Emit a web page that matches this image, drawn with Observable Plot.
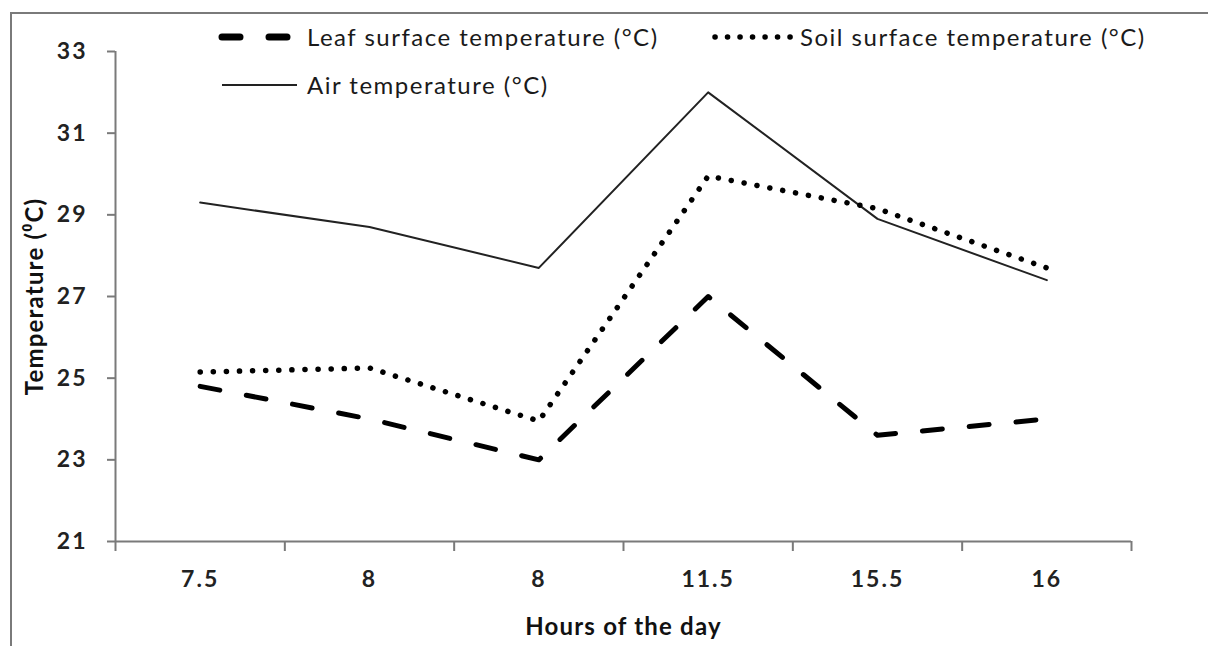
<!DOCTYPE html>
<html>
<head>
<meta charset="utf-8">
<script src="https://cdn.jsdelivr.net/npm/d3@7"></script>
<script src="https://cdn.jsdelivr.net/npm/@observablehq/plot@0.6"></script>
<style>
  html, body { margin: 0; padding: 0; background: #fff; }
  #wrap { position: relative; width: 1208px; height: 646px; overflow: hidden; font-family: Lato, "Open Sans", sans-serif; }
  #border { position: absolute; left: 10px; top: 12px; width: 1220px; height: 660px; border: 2px solid #7a7a7a; box-sizing: border-box; }
  #chart { position: absolute; left: 0; top: 0; }
  .leg { position: absolute; display: flex; align-items: center; font-size: 24px; line-height: 29px; letter-spacing: 1.5px; color: #1a1a1a; white-space: nowrap; }
  .leg svg { display: block; }
</style>
</head>
<body>
<div id="wrap">
  <div id="border"></div>
  <div id="chart"></div>
</div>
<script>
// Data
const hours = ["7.5", "8", "8", "11.5", "15.5", "16"];
const leafTemp = [24.8, 24.0, 23.0, 27.0, 23.6, 24.0];
const soilTemp = [25.15, 25.25, 23.95, 29.95, 29.15, 27.7];
const airTemp = [29.3, 28.7, 27.7, 32.0, 28.9, 27.4];
const yTicks = [21, 23, 25, 27, 29, 31, 33];
const seriesNames = ["Leaf surface temperature (°C)", "Soil surface temperature (°C)", "Air temperature (°C)"];

const idx = hours.map((_, i) => i);
const toRows = (vals) => vals.map((v, i) => ({ x: i + 0.5, y: v }));

const styles = {
  leaf: { stroke: "#000", strokeWidth: 5, strokeDasharray: "20 27", strokeLinecap: "round" },
  soil: { stroke: "#000", strokeWidth: 5.5, strokeDasharray: "0.1 13", strokeLinecap: "round" },
  air:  { stroke: "#222", strokeWidth: 2 }
};

const chart = Plot.plot({
  width: 1208,
  height: 646,
  marginLeft: 115,
  marginRight: 77,
  marginTop: 51,
  marginBottom: 105,
  style: { fontFamily: "Lato, 'Open Sans', sans-serif", background: "transparent" },
  x: { type: "linear", domain: [0, hours.length], axis: null },
  y: { domain: [21, 33], axis: null },
  marks: [
    Plot.axisY({ ticks: yTicks, tickSize: 8, tickPadding: 20, stroke: "#7a7a7a", strokeWidth: 2, fontSize: 23, fontWeight: "bold", fill: "#222", tickFormat: d => String(d),
      label: "Temperature (⁰C)", labelAnchor: "center", labelArrow: "none", labelOffset: 90 }),
    Plot.axisX({ ticks: d3.range(hours.length + 1), tickSize: 10, tickFormat: () => "", stroke: "#7a7a7a", strokeWidth: 2, label: null }),
    Plot.axisX({ ticks: idx.map(i => i + 0.5), tickSize: 0, tickPadding: 29, tickFormat: d => hours[Math.round(d - 0.5)], fontSize: 23, fontWeight: "bold", fill: "#222",
      label: "Hours of the day", labelAnchor: "center", labelArrow: "none", labelOffset: 93 }),
    Plot.ruleY([21], { stroke: "#7a7a7a", strokeWidth: 2, x1: 0, x2: hours.length }),
    Plot.ruleX([0], { stroke: "#7a7a7a", strokeWidth: 2, y1: 21, y2: 33 }),
    Plot.line(toRows(airTemp), { x: "x", y: "y", ...styles.air }),
    Plot.line(toRows(soilTemp), { x: "x", y: "y", ...styles.soil }),
    Plot.line(toRows(leafTemp), { x: "x", y: "y", ...styles.leaf })
  ]
});

// Axis label and tick text styling
chart.querySelectorAll("[aria-label='y-axis label'] text, [aria-label='x-axis label'] text").forEach(t => {
  t.setAttribute("font-weight", "bold");
  t.setAttribute("font-size", "24");
  t.setAttribute("fill", "#111");
  t.style.letterSpacing = "1.2px";
});
chart.querySelectorAll("[aria-label='y-axis tick label'] text, [aria-label='x-axis tick label'] text").forEach(t => {
  t.style.letterSpacing = "2px";
});
document.getElementById("chart").appendChild(chart);

// Legend
const wrap = document.getElementById("wrap");
const ns = "http://www.w3.org/2000/svg";
function legendItem(name, st, left, top, svgW, x1, x2, gap) {
  const div = document.createElement("div");
  div.className = "leg";
  div.style.left = left + "px";
  div.style.top = top + "px";
  const svg = document.createElementNS(ns, "svg");
  svg.setAttribute("width", svgW);
  svg.setAttribute("height", 14);
  svg.style.marginRight = gap + "px";
  const ln = document.createElementNS(ns, "line");
  ln.setAttribute("x1", x1); ln.setAttribute("x2", x2);
  ln.setAttribute("y1", 7); ln.setAttribute("y2", 7);
  ln.setAttribute("stroke", st.stroke);
  ln.setAttribute("stroke-width", st.strokeWidth);
  if (st.strokeDasharray) ln.setAttribute("stroke-dasharray", st.strokeDasharray);
  if (st.strokeLinecap) ln.setAttribute("stroke-linecap", st.strokeLinecap);
  svg.appendChild(ln);
  div.appendChild(svg);
  const span = document.createElement("span");
  span.textContent = name;
  div.appendChild(span);
  wrap.appendChild(div);
}
legendItem(seriesNames[0], { ...styles.leaf, strokeWidth: 7, strokeDasharray: "18 29" }, 218, 22, 80, 4, 74, 9);
legendItem(seriesNames[1], { ...styles.soil, strokeDasharray: "0.1 12.4" }, 711, 22, 84, 4, 80, 5);
legendItem(seriesNames[2], styles.air, 222, 70, 75, 0, 75, 10);
</script>
</body>
</html>
